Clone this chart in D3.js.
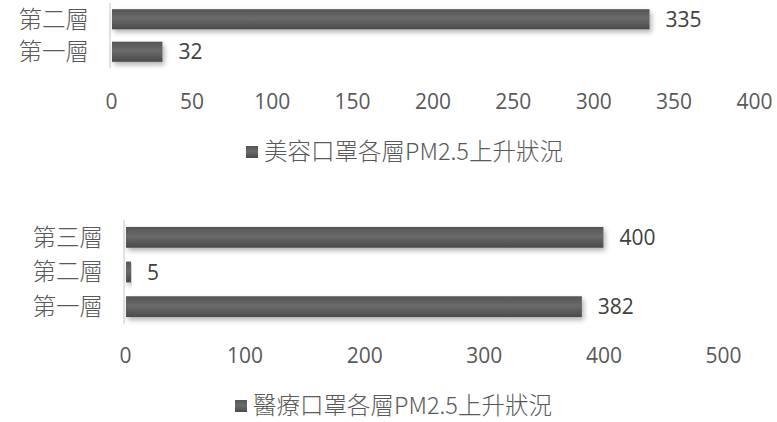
<!DOCTYPE html>
<html>
<head>
<meta charset="utf-8">
<script src="https://cdn.jsdelivr.net/npm/d3@7"></script>
<style>
  html, body { margin: 0; padding: 0; background: #ffffff; }
  svg { display: block; }
  .cat { font-family: "Noto Sans CJK TC", "Noto Sans CJK SC", sans-serif; font-weight: 300; fill: #595959; }
  .num { font-family: "Open Sans", "Liberation Sans", sans-serif; fill: #404040; }
  .tick-label { font-family: "Open Sans", "Liberation Sans", sans-serif; fill: #595959; }
</style>
</head>
<body>
<script>
// Chart 1: beauty masks
const beautyLayers = ["第一層", "第二層"];
const beautyValues = [32, 335];
const beautyTicks = [0, 50, 100, 150, 200, 250, 300, 350, 400];
const beautyTitle = "美容口罩各層PM2.5上升狀況";

// Chart 2: medical masks
const medicalLayers = ["第一層", "第二層", "第三層"];
const medicalValues = [382, 5, 400];
const medicalTicks = [0, 100, 200, 300, 400, 500];
const medicalTitle = "醫療口罩各層PM2.5上升狀況";

const W = 777, H = 422;
const svg = d3.select("body").append("svg").attr("width", W).attr("height", H);

const defs = svg.append("defs");
const grad = defs.append("linearGradient").attr("id", "barGrad")
  .attr("x1", 0).attr("y1", 0).attr("x2", 0).attr("y2", 1);
grad.append("stop").attr("offset", "0%").attr("stop-color", "#555555");
grad.append("stop").attr("offset", "45%").attr("stop-color", "#6a6a6a");
grad.append("stop").attr("offset", "100%").attr("stop-color", "#4a4a4a");

const shadow = defs.append("filter").attr("id", "barShadow")
  .attr("x", "-10%").attr("y", "-50%").attr("width", "130%").attr("height", "220%");
shadow.append("feDropShadow").attr("dx", 2).attr("dy", 3).attr("stdDeviation", 2.5)
  .attr("flood-color", "#000000").attr("flood-opacity", 0.3);

function drawChart(cfg) {
  const g = svg.append("g");
  const x = d3.scaleLinear().domain(cfg.domain).range(cfg.xRange);
  // categories listed bottom-to-top, so reverse for the band scale
  const y = d3.scaleBand().domain(cfg.layers.slice().reverse()).range(cfg.yRange).paddingInner(cfg.pad).paddingOuter(cfg.pad / 2);

  // category axis line
  g.append("line")
    .attr("x1", x(0) - 1).attr("x2", x(0) - 1)
    .attr("y1", cfg.yRange[0]).attr("y2", cfg.yRange[1])
    .attr("stroke", "#d9d9d9").attr("stroke-width", 1.5);

  const data = cfg.layers.map((l, i) => ({ layer: l, value: cfg.values[i] }));

  g.selectAll("rect.bar").data(data).enter().append("rect")
    .attr("class", "bar")
    .attr("x", x(0) + 1)
    .attr("y", d => y(d.layer))
    .attr("width", d => x(d.value) - x(0) - 1)
    .attr("height", y.bandwidth())
    .attr("fill", "url(#barGrad)")
    .attr("filter", "url(#barShadow)");

  g.selectAll("text.num").data(data).enter().append("text")
    .attr("class", "num")
    .attr("x", d => x(d.value) + 16)
    .attr("y", d => y(d.layer) + y.bandwidth() / 2)
    .attr("dy", "0.36em")
    .attr("font-size", 21)
    .text(d => d.value);

  g.selectAll("text.cat").data(data).enter().append("text")
    .attr("class", "cat")
    .attr("x", x(0) - 22)
    .attr("y", d => y(d.layer) + y.bandwidth() / 2)
    .attr("dy", "0.36em")
    .attr("text-anchor", "end")
    .attr("font-size", 23.5)
    .text(d => d.layer);

  // value axis (labels only)
  const axis = d3.axisBottom(x).tickValues(cfg.ticks).tickSize(0).tickPadding(0);
  const ax = g.append("g").attr("transform", `translate(0,${cfg.tickY})`).call(axis);
  ax.select(".domain").remove();
  ax.selectAll("text").attr("class", "tick-label").attr("font-size", 21).attr("fill", "#595959")
    .attr("dy", "0.36em").attr("y", 0);

  // legend
  const lg = g.append("g").attr("transform", `translate(${cfg.legendX},${cfg.legendY})`);
  lg.append("rect").attr("x", 0).attr("y", -6).attr("width", 12).attr("height", 12)
    .attr("fill", "url(#barGrad)");
  lg.append("text").attr("class", "cat").attr("x", 18).attr("y", 0).attr("dy", "0.34em")
    .attr("font-size", 23.5).text(cfg.title);
}

drawChart({
  layers: beautyLayers, values: beautyValues, ticks: beautyTicks, title: beautyTitle,
  domain: [0, 400], xRange: [111, 754], yRange: [3, 68], pad: 0.38,
  tickY: 101, legendX: 246, legendY: 152
});

drawChart({
  layers: medicalLayers, values: medicalValues, ticks: medicalTicks, title: medicalTitle,
  domain: [0, 500], xRange: [125, 723], yRange: [220, 324], pad: 0.4,
  tickY: 355, legendX: 235, legendY: 406
});
</script>
</body>
</html>
